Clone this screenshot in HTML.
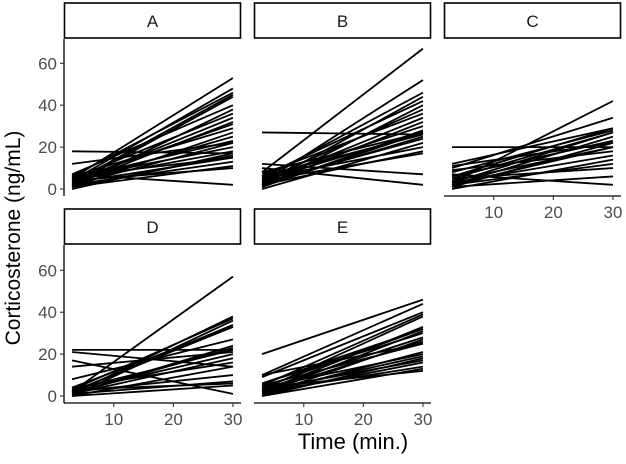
<!DOCTYPE html>
<html><head><meta charset="utf-8"><style>
body{margin:0;background:#fff}
svg{display:block;font-family:"Liberation Sans",sans-serif}
</style></head><body>
<svg id="chart" width="626" height="464" viewBox="0 0 626 464" xmlns="http://www.w3.org/2000/svg"></svg>
<script>
const facetNames = ["A","B","C","D","E"];
const xTimes = [3, 30];
const xTicks = [10, 20, 30];
const yTicks = [0, 20, 40, 60];
const startA = [18,12,5,4,6,3,2,7,1,5,3,2,4,6,1,3,5,2,4,1,3,6,2,1,4,7,0,5];
const endA   = [17,22,53,48,46,45,44,40,38,36,34,32,31,29,27,25,23,22,18,16,15,15,13,11,10,2,17,20];
const startB = [27,12,10,8,3,5,2,6,1,4,7,3,2,5,1,4,6,2,3,0,5,2,4,1,8];
const endB   = [26,7,2,67,52,46,44,42,40,38,36,34,32,30,28,27,26,25,24,22,20,18,17,27,27];
const startC = [20,12,10,3,8,5,2,6,1,4,9,3,0,2,5,1,7,3,6,11,2];
const endC   = [20,29,34,42,28,27,25,23,22,20,18,16,14,12,10,6,2,27,29,22,20];
const startD = [22,21,17,14,8,2,1,3,0,2,4,1,3,2,1,4,0,2,1,3,0,2,1];
const endD   = [22,14,1,21,27,57,38,37,36,34,33,24,22,20,18,16,14,10,7,6,5,33,23];
const startE = [20,10,9,5,3,2,4,1,6,3,0,2,5,1,4,2,0,3,1,2,0,4,10,6];
const endE   = [46,44,40,39,38,33,32,31,30,28,27,26,25,21,20,19,18,17,16,14,13,12,25,32];

const svg = document.getElementById('chart');
const NS = "http://www.w3.org/2000/svg";
function mk(tag, attrs, parent){const e=document.createElementNS(NS,tag);for(const k in attrs)e.setAttribute(k,attrs[k]);(parent||svg).appendChild(e);return e;}

const panels = [
 {x0:64, top:39, zeroY:189, starts:startA, ends:endA, xaxis:false, yaxis:true},
 {x0:254, top:39, zeroY:189, starts:startB, ends:endB, xaxis:false, yaxis:false},
 {x0:444, top:39, zeroY:189, starts:startC, ends:endC, xaxis:true, yaxis:false},
 {x0:64, top:245, zeroY:396, starts:startD, ends:endD, xaxis:true, yaxis:true},
 {x0:254, top:245, zeroY:396, starts:startE, ends:endE, xaxis:true, yaxis:false}
];
const W = 177, yPer = 2.095, dMin = 1.65, dMax = 31.35;
panels.forEach((p, i) => {
  const xs = v => p.x0 + (v - dMin) / (dMax - dMin) * W;
  const ys = v => p.zeroY - v * yPer;
  const g = mk('g', {});
  
  
  const strip = mk('rect', {x:p.x0+0.5, y:p.top-36, width:W-1, height:35, fill:'#fff', stroke:'#000', 'stroke-width':1.6}, g);
  
  
  const st = mk('text', {x:p.x0+W/2, y:p.top-12, 'text-anchor':'middle', 'font-size':17, fill:'#1a1a1a'}, g);
  st.textContent = facetNames[i];
  
  
  const bottom = p.zeroY + 7;
  if (p.yaxis) {
    const ya = mk('line', {x1:p.x0, x2:p.x0, y1:p.top, y2:bottom, stroke:'#000', 'stroke-width':1.3}, g);
    
    
    yTicks.forEach(t => {
      mk('line', {x1:p.x0-4, x2:p.x0, y1:ys(t), y2:ys(t), stroke:'#333', 'stroke-width':1.1}, g);
      const tl = mk('text', {x:p.x0-7, y:ys(t)+6, 'text-anchor':'end', 'font-size':17, fill:'#4d4d4d'}, g);
      tl.textContent = t;
      
      
    });
  }
  if (p.xaxis) {
    const xa = mk('line', {x1:p.x0, x2:p.x0+W, y1:bottom, y2:bottom, stroke:'#000', 'stroke-width':1.3}, g);
    
    
    xTicks.forEach(t => {
      mk('line', {x1:xs(t), x2:xs(t), y1:bottom, y2:bottom+4, stroke:'#333', 'stroke-width':1.1}, g);
      const tl = mk('text', {x:xs(t), y:bottom+22, 'text-anchor':'middle', 'font-size':17, fill:'#4d4d4d'}, g);
      tl.textContent = t;
      
      
    });
  }
  p.starts.forEach((s, j) => {
    const ln = mk('line', {x1:xs(xTimes[0]), y1:ys(s), x2:xs(xTimes[1]), y2:ys(p.ends[j]), stroke:'#000', 'stroke-width':1.8}, g);
    
    
  });
});
const yt = mk('text', {x:0, y:0, transform:'translate(20,238) rotate(-90)', 'text-anchor':'middle', 'font-size':21, fill:'#000'});
yt.textContent = 'Corticosterone (ng/mL)';


const xt = mk('text', {x:353, y:449, 'text-anchor':'middle', 'font-size':22, fill:'#000'});
xt.textContent = 'Time (min.)';


</script>
</body></html>
